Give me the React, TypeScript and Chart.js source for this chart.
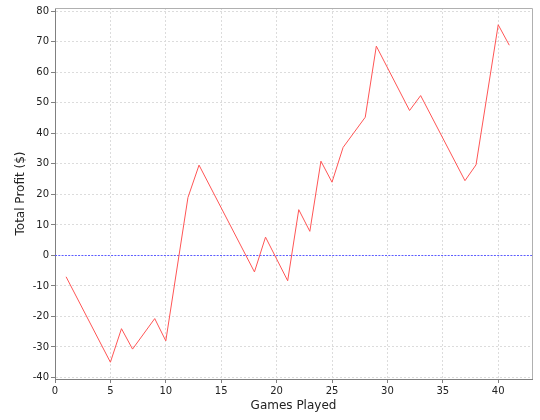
import React, { useEffect, useRef } from "react";
import { Chart, registerables } from "chart.js";

Chart.register(...registerables);

const games: number[] = [1, 5, 6, 7, 9, 10, 12, 13, 18, 19, 21, 22, 23, 24, 25, 26, 28, 29, 32, 33, 37, 38, 40, 41];
const profit: number[] = [-7, -35, -24, -30.7, -20.7, -28, 19, 29.6, -5.4, 6, -8.3, 15, 7.9, 30.9, 24, 35.4, 45.3, 68.6, 47.5, 52.4, 24.5, 29.7, 75.6, 68.9];
const zeroLineValue = 0;

const xTitle = "Games Played";
const yTitle = "Total Profit ($)";

const FONT = "'DejaVu Sans', sans-serif";

const outlinePlugin = {
  id: "outline",
  beforeDatasetsDraw(chart: any) {
    const { ctx, chartArea } = chart;
    const y = Math.round(chart.scales.y.getPixelForValue(zeroLineValue)) + 0.5;
    ctx.save();
    ctx.strokeStyle = "#5c5cff";
    ctx.lineWidth = 1;
    ctx.setLineDash([2, 1.3]);
    ctx.beginPath();
    ctx.moveTo(chartArea.left, y);
    ctx.lineTo(chartArea.right, y);
    ctx.stroke();
    ctx.restore();
  },
  afterDraw(chart: any) {
    const { ctx, chartArea } = chart;
    ctx.save();
    ctx.strokeStyle = "#b0b0b0";
    ctx.lineWidth = 1;
    ctx.beginPath();
    ctx.moveTo(chartArea.left, chartArea.top + 0.5);
    ctx.lineTo(chartArea.right + 0.5, chartArea.top + 0.5);
    ctx.lineTo(chartArea.right + 0.5, chartArea.bottom);
    ctx.stroke();
    ctx.restore();
  },
};

const isZero = (c: any) => c && c.tick && Math.abs(c.tick.value) < 1e-9;

export default function App() {
  const ref = useRef<HTMLCanvasElement | null>(null);

  useEffect(() => {
    document.body.style.margin = "0";
    const canvas = ref.current;
    if (!canvas) return;
    const chart = new Chart(canvas, {
      type: "line",
      data: {
        datasets: [
          {
            data: games.map((g, i) => ({ x: g, y: profit[i] })),
            borderColor: "#ff5555",
            borderWidth: 1,
            pointRadius: 0,
            fill: false,
            tension: 0,
          },
        ],
      },
      options: {
        animation: false,
        responsive: false,
        maintainAspectRatio: false,
        layout: { padding: { left: 0, right: 8, top: 4, bottom: 0 } },
        plugins: { legend: { display: false }, tooltip: { enabled: false } },
        scales: {
          x: {
            type: "linear",
            min: 0,
            max: 43.05,
            afterFit: (s: any) => {
              s.height = 41;
            },
            ticks: {
              stepSize: 5,
              includeBounds: false,
              font: { family: FONT, size: 10 },
              color: "#222",
              padding: 2,
              maxRotation: 0,
            },
            grid: {
              color: "#dcdcdc",
              lineWidth: 1,
              tickLength: 4,
              tickColor: "#808080",
              tickBorderDash: [],
            },
            border: { color: "#808080", width: 1, dash: [2, 2] },
            title: {
              display: true,
              text: xTitle,
              font: { family: FONT, size: 12 },
              color: "#222",
              padding: { top: 7, bottom: 7 },
            },
          },
          y: {
            type: "linear",
            min: -40.5,
            max: 81.1,
            afterFit: (s: any) => {
              s.width = 55;
            },
            ticks: {
              stepSize: 10,
              includeBounds: false,
              font: { family: FONT, size: 10 },
              color: "#222",
              padding: 2,
            },
            grid: {
              color: (c: any) => (isZero(c) ? "rgba(0,0,0,0)" : "#dcdcdc"),
              lineWidth: 1,
              tickLength: 4,
              tickColor: "#808080",
              tickBorderDash: [],
            },
            border: { color: "#808080", width: 1, dash: [2, 2] },
            title: {
              display: true,
              text: yTitle,
              font: { family: FONT, size: 12 },
              color: "#222",
              padding: { top: 14, bottom: 0 },
            },
          },
        },
      },
      plugins: [outlinePlugin],
    } as any);
    return () => chart.destroy();
  }, []);

  return (
    <div style={{ position: "absolute", left: 0, top: 0, width: 540, height: 420, background: "#fff" }}>
      <canvas ref={ref} width={540} height={420} style={{ width: 540, height: 420 }} />
    </div>
  );
}
